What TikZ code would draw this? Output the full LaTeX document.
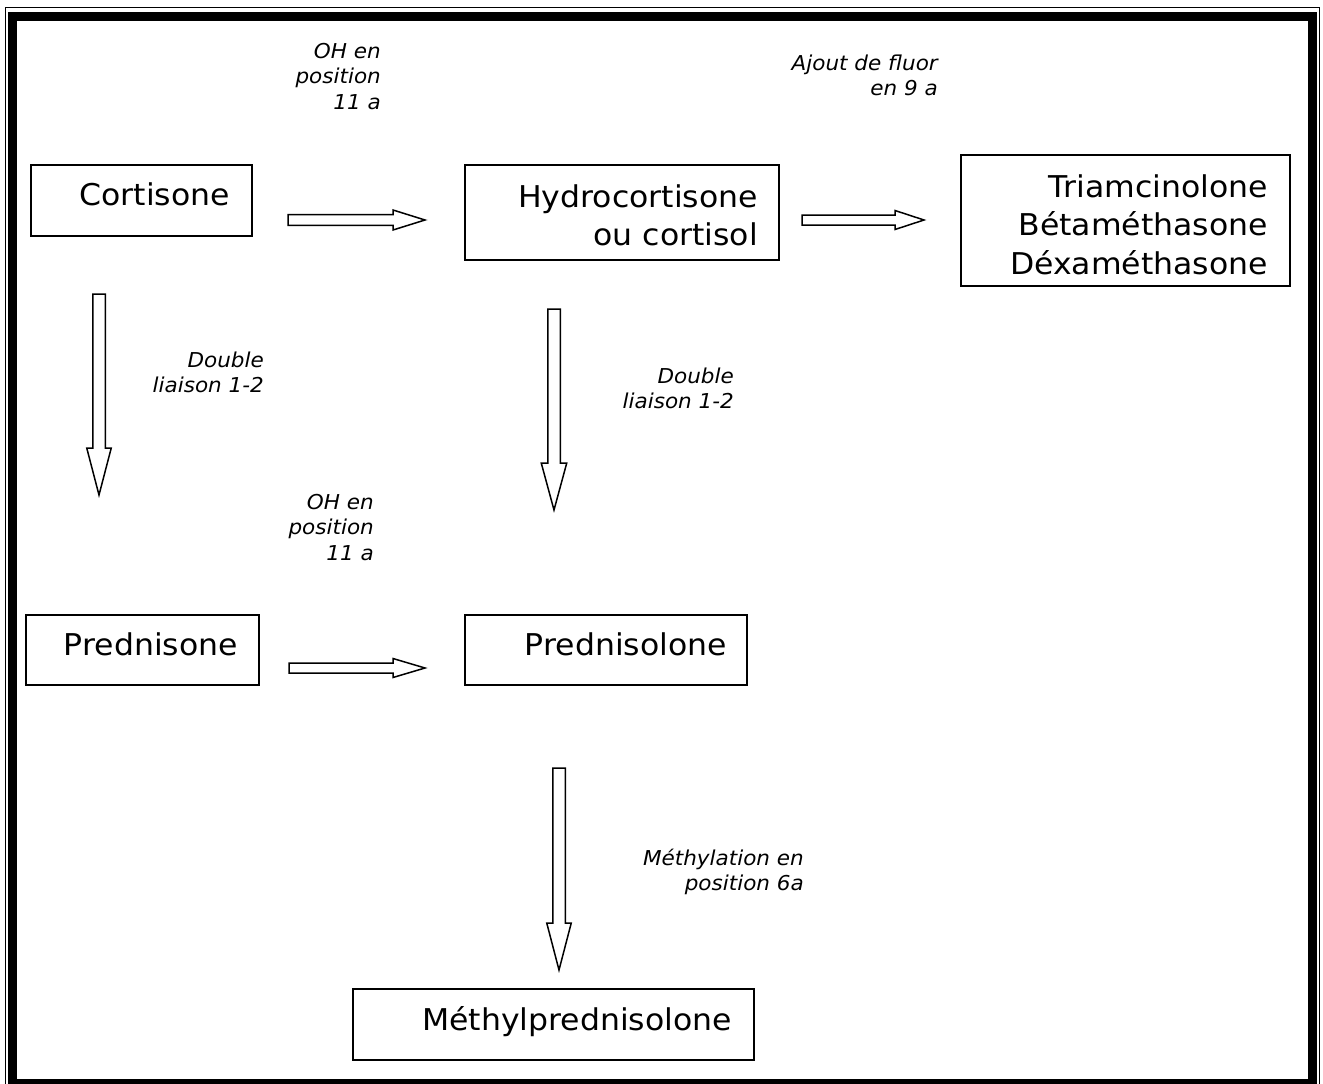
\documentclass[tikz,border=0pt]{standalone}
\usepackage{fontspec}
\setmainfont{DejaVu Sans}[FakeStretch=1.05]
\usetikzlibrary{calc}
\tikzset{
  boxnode/.style={draw=black, line width=1.6pt, rectangle, inner sep=0pt, anchor=north west},
  bigtext/.style={inner sep=0pt, anchor=base east, font=\fontsize{30}{38.5}\selectfont},
  smalltext/.style={inner sep=0pt, anchor=base east, font=\fontsize{20.5}{25.7}\selectfont\itshape},
  blockarrow/.style={draw=black, line width=1.5pt, fill=white, line join=miter},
}
\newcommand\blockright[5]{%
  \draw[blockarrow] ($(#1)+(0,-#3)$) -- ($(#2)+(-#5,-#3)$) -- ($(#2)+(-#5,-#4)$) -- (#2)
    -- ($(#2)+(-#5,#4)$) -- ($(#2)+(-#5,#3)$) -- ($(#1)+(0,#3)$) -- cycle;}
\newcommand\blockdown[5]{%
  \draw[blockarrow] ($(#1)+(-#3,0)$) -- ($(#2)+(-#3,-#5)$) -- ($(#2)+(-#4,-#5)$) -- (#2)
    -- ($(#2)+(#4,-#5)$) -- ($(#2)+(#3,-#5)$) -- ($(#1)+(#3,0)$) -- cycle;}
\begin{document}
\begin{tikzpicture}[x=1pt,y=-1pt]
\useasboundingbox (0,0) rectangle (1323,1084);
% frame
\draw[line width=1.5pt] (5.5,7.5) rectangle (1319.5,1095);
\draw[line width=9pt] (12,16) rectangle (1312.5,1083.5);

% boxes
\node[boxnode, minimum width=221pt, minimum height=71pt] (cort) at (30,164) {};
\node[boxnode, minimum width=314pt, minimum height=95pt] (hydro) at (464,164) {};
\node[boxnode, minimum width=329pt, minimum height=131pt] (triam) at (960,154) {};
\node[boxnode, minimum width=233pt, minimum height=70pt] (pred) at (25,614) {};
\node[boxnode, minimum width=282pt, minimum height=70pt] (predl) at (464,614) {};
\node[boxnode, minimum width=401pt, minimum height=71pt] (meth) at (352,988) {};

% box texts
\node[bigtext] (cortT) at (230,205) {Cortisone};
\node[bigtext] (hydroT) at (758,207) {\begin{tabular}[t]{@{}r@{}}Hydrocortisone\\ou cortisol\end{tabular}};
\node[bigtext] (triamT) at (1268,197) {\begin{tabular}[t]{@{}r@{}}Triamcinolone\\Bétaméthasone\\Déxaméthasone\end{tabular}};
\node[bigtext] (predT) at (238,655) {Prednisone};
\node[bigtext] (predlT) at (727,655) {Prednisolone};
\node[bigtext] (methT) at (732,1030) {Méthylprednisolone};

% labels
\node[smalltext] (lab1) at (381,58) {\begin{tabular}[t]{@{}r@{}}OH en\\position\\11 a\end{tabular}};
\node[smalltext] (lab2) at (938,70) {\begin{tabular}[t]{@{}r@{}}Ajout de fluor\\en 9 a\end{tabular}};
\node[smalltext] (lab3) at (264,367) {\begin{tabular}[t]{@{}r@{}}Double\\liaison 1-2\end{tabular}};
\node[smalltext] (lab4) at (734,383) {\begin{tabular}[t]{@{}r@{}}Double\\liaison 1-2\end{tabular}};
\node[smalltext] (lab5) at (374,509) {\begin{tabular}[t]{@{}r@{}}OH en\\position\\11 a\end{tabular}};
\node[smalltext] (lab6) at (804,865) {\begin{tabular}[t]{@{}r@{}}Méthylation en\\position 6a\end{tabular}};

% arrow end points
\coordinate (a1s) at (288,220); \coordinate (a1e) at (425,220);
\coordinate (a2s) at (802,220); \coordinate (a2e) at (924,220);
\coordinate (a3s) at (289,668); \coordinate (a3e) at (425,668);
\coordinate (d1s) at (99,294);  \coordinate (d1e) at (99,495);
\coordinate (d2s) at (554,309); \coordinate (d2e) at (554,510);
\coordinate (d3s) at (559,768); \coordinate (d3e) at (559,970);

\blockright{a1s}{a1e}{5.3}{10}{32}
\blockright{a2s}{a2e}{5}{9.5}{29}
\blockright{a3s}{a3e}{5}{9.5}{32}
\blockdown{d1s}{d1e}{6.25}{12.25}{47}
\blockdown{d2s}{d2e}{6.25}{12.75}{47}
\blockdown{d3s}{d3e}{6.25}{12.25}{47}
\end{tikzpicture}
\end{document}
